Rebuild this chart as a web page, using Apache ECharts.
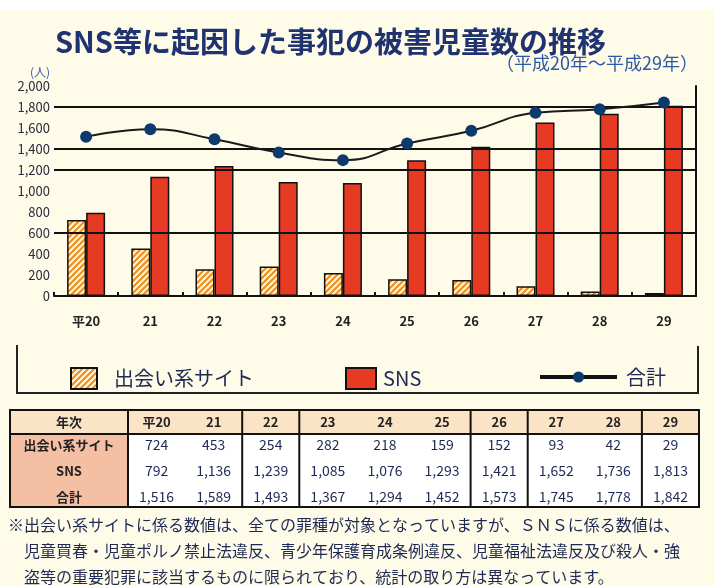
<!DOCTYPE html>
<html>
<head>
<meta charset="utf-8">
<script src="https://cdn.jsdelivr.net/npm/echarts@6/dist/echarts.min.js"></script>
<style>
  html, body { margin: 0; padding: 0; background: #fffbe9; }
  #chart { width: 715px; height: 585px; }
</style>
</head>
<body>
<div id="chart"></div>
<script>
const years = ['平20', '21', '22', '23', '24', '25', '26', '27', '28', '29'];
const deaiValues = [724, 453, 254, 282, 218, 159, 152, 93, 42, 29];
const snsValues = [792, 1136, 1239, 1085, 1076, 1293, 1421, 1652, 1736, 1813];
const totalValues = [1516, 1589, 1493, 1367, 1294, 1452, 1573, 1745, 1778, 1842];
const gridLineValues = [1800, 1400, 1200, 600];
const rowNames = ['出会い系サイト', 'SNS', '合計'];
// table column groups end after these indices
const groupEnds = [2, 3, 6, 7, 9, 10];

const FONT = '"Noto Sans CJK JP", "Noto Sans", sans-serif';
const INK = '#1e2a55';

// orange hatched fill for 出会い系サイト
function makeHatch() {
  const c = document.createElement('canvas');
  c.width = 6; c.height = 6;
  const ctx = c.getContext('2d');
  ctx.fillStyle = '#fff6e0';
  ctx.fillRect(0, 0, 6, 6);
  ctx.strokeStyle = '#f0901c';
  ctx.lineWidth = 2.2;
  ctx.beginPath();
  ctx.moveTo(-1, 1); ctx.lineTo(1, -1);
  ctx.moveTo(0, 6); ctx.lineTo(6, 0);
  ctx.moveTo(5, 7); ctx.lineTo(7, 5);
  ctx.stroke();
  return c;
}
const hatch = { image: makeHatch(), repeat: 'repeat' };

const chart = echarts.init(document.getElementById('chart'));

// table built from the arrays
function buildTable() {
  const els = [];
  const L = 10, R = 699, T = 410, H1 = 434, B = 507;
  const labelW = 118;
  const colW = (R - L - labelW) / years.length;
  els.push({ type: 'rect', shape: { x: L, y: T, width: R - L, height: H1 - T }, style: { fill: '#fbe3c6' } });
  els.push({ type: 'rect', shape: { x: L, y: H1, width: labelW, height: B - H1 }, style: { fill: '#f5bfa3' } });
  els.push({ type: 'rect', shape: { x: L + labelW, y: H1, width: R - L - labelW, height: B - H1 }, style: { fill: '#ffffff' } });
  els.push({ type: 'line', shape: { x1: L, y1: H1, x2: R, y2: H1 }, style: { stroke: '#111', lineWidth: 2 } });
  els.push({ type: 'line', shape: { x1: L + labelW, y1: T, x2: L + labelW, y2: B }, style: { stroke: '#111', lineWidth: 2 } });
  groupEnds.forEach(function (g) {
    const x = L + labelW + g * colW;
    els.push({ type: 'line', shape: { x1: x, y1: T, x2: x, y2: B }, style: { stroke: '#111', lineWidth: 2 } });
  });
  els.push({ type: 'rect', shape: { x: L, y: T, width: R - L, height: B - T }, style: { fill: null, stroke: '#111', lineWidth: 2 } });

  els.push({ type: 'text', x: L + labelW / 2, y: (T + H1) / 2, style: { text: '年次', font: 'bold 13px ' + FONT, fill: '#222', align: 'center', verticalAlign: 'middle' } });
  const rowY = [445, 471, 497];
  rowNames.forEach(function (n, r) {
    els.push({ type: 'text', x: L + labelW / 2, y: rowY[r], style: { text: n, font: 'bold 13px ' + FONT, fill: '#222', align: 'center', verticalAlign: 'middle' } });
  });
  const rows = [deaiValues, snsValues, totalValues];
  years.forEach(function (yname, i) {
    const cx = L + labelW + (i + 0.5) * colW;
    els.push({ type: 'text', x: cx, y: (T + H1) / 2, style: { text: yname, font: 'bold 13px ' + FONT, fill: '#222', align: 'center', verticalAlign: 'middle' } });
    rows.forEach(function (arr, r) {
      els.push({ type: 'text', x: cx, y: rowY[r], style: { text: arr[i].toLocaleString('en-US'), font: '14px ' + FONT, fill: INK, align: 'center', verticalAlign: 'middle' } });
    });
  });
  return els;
}

const legendBox = {
  type: 'polyline',
  shape: { points: [[17, 345], [17, 393], [698, 393], [698, 346]] },
  style: { stroke: '#222', lineWidth: 2, fill: null }
};

const footnote = [
  '※出会い系サイトに係る数値は、全ての罪種が対象となっていますが、ＳＮＳに係る数値は、',
  '　児童買春・児童ポルノ禁止法違反、青少年保護育成条例違反、児童福祉法違反及び殺人・強',
  '　盗等の重要犯罪に該当するものに限られており、統計の取り方は異なっています。'
].map(function (t, i) {
  return { type: 'text', x: 8, y: 525 + i * 26, style: { text: t, font: '16px ' + FONT, fill: INK, verticalAlign: 'middle' } };
});

const option = {
  backgroundColor: '#fffbe9',
  animation: false,
  textStyle: { fontFamily: FONT },
  title: [
    {
      text: 'SNS等に起因した事犯の被害児童数の推移',
      left: 50, top: 22,
      textStyle: { fontSize: 29, fontWeight: 'bold', color: '#1f3370', fontFamily: FONT }
    },
    {
      text: '（平成20年～平成29年）',
      right: 12, top: 49,
      textStyle: { fontSize: 18, fontWeight: 'normal', color: '#2d5aa6', fontFamily: FONT }
    }
  ],
  legend: [
    {
      data: [{ name: '出会い系サイト', icon: 'rect' }], left: 65, top: 362,
      itemWidth: 26, itemHeight: 21,
      textStyle: { fontSize: 20, color: INK, padding: [0, 0, 0, 12] }
    },
    {
      data: [{ name: 'SNS', icon: 'rect' }], left: 340, top: 362,
      itemWidth: 30, itemHeight: 21,
      textStyle: { fontSize: 20, color: INK, padding: [0, 0, 0, 2] }
    },
    {
      data: ['合計'], left: 533, top: 362,
      itemWidth: 77, itemHeight: 14,
      lineStyle: { width: 4, color: '#111' },
      textStyle: { fontSize: 20, color: INK, padding: [0, 0, 0, 4] }
    }
  ],
  grid: { left: 54, right: 19, top: 86, bottom: 289, containLabel: false },
  xAxis: {
    type: 'category',
    data: years,
    boundaryGap: true,
    axisLine: { lineStyle: { color: '#111', width: 2 } },
    axisTick: { show: true, inside: true, length: 4, lineStyle: { color: '#111', width: 2 } },
    axisLabel: { fontSize: 13, fontWeight: 'bold', color: '#222', margin: 19 }
  },
  yAxis: [
    {
      type: 'value', min: 0, max: 2000, interval: 200,
      name: '(人)', nameGap: 8,
      nameTextStyle: { fontSize: 12, color: '#3a5fa8', align: 'right', padding: [0, 4, 0, 0] },
      axisLine: { show: false }, axisTick: { show: false },
      splitLine: { show: false },
      axisLabel: {
        fontSize: 13, color: '#2a2a40', margin: 4,
        formatter: function (v) { return v.toLocaleString('en-US'); }
      }
    },
    {
      type: 'value', min: 0, max: 2000, interval: 200, position: 'right',
      axisLine: { show: true, lineStyle: { color: '#111', width: 2 } },
      axisTick: { show: false }, axisLabel: { show: false }, splitLine: { show: false }
    }
  ],
  series: [
    {
      // gridlines drawn behind the bars
      name: 'grid', type: 'line', data: [], z: 1, silent: true,
      markLine: {
        silent: true, symbol: 'none', label: { show: false },
        lineStyle: { color: '#111', width: 2, type: 'solid' },
        data: gridLineValues.map(function (v) { return { yAxis: v }; })
      }
    },
    {
      name: '出会い系サイト', type: 'bar', data: deaiValues, z: 3,
      barWidth: 19, barGap: '0%',
      itemStyle: { color: hatch, borderColor: '#111', borderWidth: 1.5 }
    },
    {
      name: 'SNS', type: 'bar', data: snsValues, z: 3,
      barWidth: 19,
      itemStyle: { color: '#e63a22', borderColor: '#111', borderWidth: 1.5 }
    },
    {
      name: '合計', type: 'line', data: totalValues, z: 5,
      smooth: 0.5, symbol: 'circle', symbolSize: 12,
      lineStyle: { color: '#1a1a1a', width: 2 },
      itemStyle: { color: '#0c3a6c' }
    }
  ],
  graphic: [
    { type: 'rect', shape: { x: 0, y: 0, width: 715, height: 10 }, style: { fill: '#ffffff' }, silent: true },
    legendBox
  ].concat(buildTable()).concat(footnote)
};

chart.setOption(option);
</script>
</body>
</html>
